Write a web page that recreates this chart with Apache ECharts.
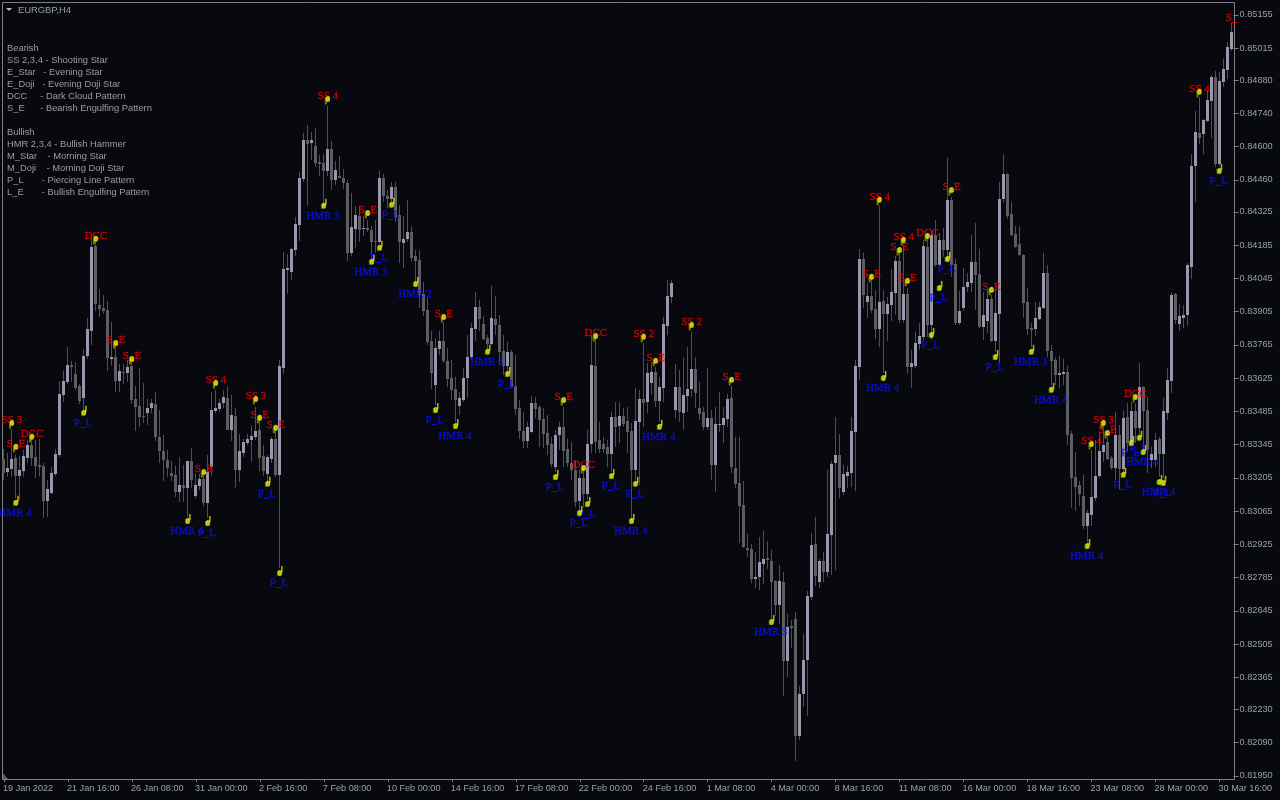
<!DOCTYPE html>
<html><head><meta charset="utf-8">
<style>html,body{margin:0;padding:0;background:#08090e}#c{width:1280px;height:800px}</style>
<script src="https://cdn.jsdelivr.net/npm/echarts@6/dist/echarts.min.js"></script>
</head><body><div id="c"></div>
<script>
// OHLC in points (1 point = 0.00001 EURGBP), H4 bars from 19 Jan 2022
const opens=[83285,83231,83243,83289,83214,83235,83289,83344,83293,83260,83256,83108,83142,83222,83302,83554,83609,83681,83643,83592,83542,83719,83824,84182,83933,83921,83912,83706,83714,83613,83651,83647,83677,83537,83508,83466,83478,83499,83516,83378,83319,83281,83226,83218,83146,83175,83163,83277,83129,83171,83201,83100,83251,83487,83495,83520,83542,83407,83466,83239,83310,83352,83365,83378,83407,83298,83222,83285,83369,83218,83668,84081,84072,84165,84271,84464,84628,84616,84603,84536,84532,84498,84590,84460,84477,84468,84447,84153,84254,84308,84254,84258,84249,84203,84199,84468,84393,84380,84431,84313,84195,84212,84241,84140,84123,83980,83912,83782,83597,83748,83782,83698,83626,83580,83508,83533,83626,83714,83832,83925,83853,83794,83769,83874,83849,83740,83677,83735,83592,83499,83403,83361,83399,83520,83504,83453,83395,83348,83251,83386,83420,83327,83268,83239,83108,83205,83137,83348,83677,83365,83348,83336,83306,83462,83424,83466,83445,83403,83239,83441,83537,83525,83605,83651,83529,83584,83845,83967,83491,83588,83478,83550,83580,83664,83499,83483,83420,83457,83260,83428,83428,83453,83542,83247,83184,83091,82910,82906,82779,82788,82843,82868,82855,82771,82670,82766,82434,82582,82611,82119,82295,82438,82704,82927,82766,82855,82809,82965,83268,83302,83146,83214,83226,83399,83672,84127,83946,83971,83917,83832,83950,83896,83933,83984,84119,83870,83980,83672,83677,83769,83799,84178,83849,84228,84102,84207,84165,84376,84106,83858,83921,84009,84026,84115,84064,83841,83866,83959,83782,83896,84380,84485,84317,84233,84190,84144,83946,83836,83832,83874,83921,84068,83740,83702,83639,83643,83651,83390,83209,83175,83129,83003,83049,83121,83214,83315,83357,83289,83247,83386,83243,83462,83361,83487,83415,83588,83491,83281,83281,83369,83306,83478,83613,83980,83853,83879,83891,84094,84519,84658,84654,84708,84793,84893,84527,84873,84923,85012];
const highs=[83327,83310,83411,83302,83298,83323,83365,83373,83365,83369,83268,83196,83251,83327,83613,83656,83756,83698,83693,83600,83748,83878,84216,84207,84001,83976,83950,83862,83773,83685,83685,83702,83693,83592,83668,83605,83537,83537,83567,83491,83386,83323,83277,83256,83293,83260,83277,83331,83222,83222,83218,83302,83567,83576,83537,83576,83592,83555,83499,83390,83369,83390,83424,83504,83470,83344,83302,83378,83407,83702,84157,84148,84174,84304,84494,84658,84691,84662,84679,84565,84569,84772,84624,84540,84561,84506,84460,84405,84351,84351,84308,84291,84266,84291,84498,84485,84418,84451,84451,84355,84308,84376,84266,84165,84165,84030,83963,83824,83794,83824,83862,83752,83702,83630,83567,83668,83807,83857,83988,83955,83887,83807,84014,83971,83891,83807,83778,83744,83723,83533,83483,83441,83550,83546,83512,83499,83470,83378,83407,83441,83504,83369,83357,83281,83239,83247,83407,83807,83798,83441,83378,83365,83483,83525,83525,83499,83504,83436,83584,83576,83773,83689,83693,83672,83630,83883,84039,84039,83685,83660,83710,83756,83820,83714,83609,83504,83668,83491,83504,83567,83504,83559,83592,83378,83378,83192,82969,82927,82893,82956,82982,82940,82902,82775,82838,82809,82632,82607,82640,82329,82548,82729,82973,83041,82864,82893,83239,83277,83462,83390,83260,83256,83462,83702,84169,84153,84026,84052,83997,84351,83997,83967,84085,84140,84153,84186,84005,83744,83820,83857,84207,84237,84249,84291,84237,84258,84553,84388,84127,83993,84089,84068,84228,84279,84170,83988,83997,83976,83997,84451,84569,84489,84367,84266,84266,84148,84005,83857,83946,83946,84153,84102,83765,83714,83719,83706,83677,83403,83314,83192,83218,83070,83323,83365,83399,83428,83378,83298,83483,83428,83491,83520,83525,83520,83689,83592,83546,83336,83394,83378,83542,83668,83984,83984,83938,83933,84110,84569,84751,84809,84717,84839,84902,84919,84915,84970,85041,85121];
const lows=[83196,83210,83210,83120,83112,83210,83268,83256,83205,83210,83037,83041,83137,83214,83293,83525,83600,83609,83576,83516,83491,83706,83765,83908,83883,83896,83656,83677,83567,83567,83600,83609,83516,83403,83420,83436,83428,83478,83361,83268,83192,83210,83192,83125,83104,83104,83041,83163,83120,83154,83087,83037,83214,83478,83483,83499,83407,83361,83163,83188,83293,83344,83272,83365,83235,83214,83184,83268,83210,82826,83643,83980,84039,84140,84203,84451,84351,84544,84515,84477,84351,84477,84418,84439,84468,84422,84119,84140,84174,84199,84224,84241,84123,84153,84191,84367,84342,84367,84283,84110,84089,84199,84115,84026,83921,83887,83765,83580,83512,83723,83689,83588,83533,83441,83470,83525,83542,83702,83782,83824,83786,83744,83765,83807,83681,83639,83639,83584,83470,83369,83331,83331,83395,83457,83336,83331,83302,83251,83230,83323,83251,83251,83196,83083,83057,83083,83112,83310,83310,83310,83310,83251,83230,83336,83352,83420,83310,83028,83196,83175,83420,83478,83554,83504,83441,83525,83807,83942,83457,83441,83407,83483,83546,83499,83449,83407,83407,83196,83146,83399,83352,83420,83226,83163,82931,82910,82872,82762,82741,82733,82758,82822,82607,82624,82590,82287,82367,82489,82013,82102,82241,82203,82691,82750,82741,82766,82788,82796,82817,83120,83133,83163,83167,83150,83618,83921,83879,83900,83790,83756,83647,83782,83866,83891,83858,83858,83643,83584,83668,83744,83786,83799,83786,84094,84094,84136,84123,84052,83849,83849,83908,83988,83988,83912,83836,83786,83816,83777,83736,83689,84363,84296,84224,84174,84140,83879,83807,83756,83803,83870,83917,83714,83596,83596,83584,83596,83344,83079,83066,83087,82990,82935,83003,83108,83205,83272,83281,83239,83196,83154,83230,83315,83352,83352,83378,83323,83226,83247,83251,83210,83205,83449,83563,83853,83824,83836,83845,84043,84367,84612,84569,84704,84637,84515,84519,84852,84885,85003];
const closes=[83226,83247,83285,83214,83239,83298,83344,83289,83256,83251,83108,83158,83226,83306,83558,83613,83681,83672,83584,83529,83719,83832,84178,83938,83917,83908,83710,83714,83613,83656,83647,83672,83533,83504,83462,83462,83499,83520,83378,83319,83281,83247,83214,83146,83175,83163,83277,83196,83175,83201,83100,83230,83491,83499,83520,83546,83407,83470,83239,83319,83357,83369,83382,83403,83289,83235,83293,83369,83218,83677,84085,84089,84169,84275,84468,84628,84611,84628,84532,84527,84498,84590,84460,84502,84468,84447,84153,84262,84313,84249,84258,84249,84199,84199,84468,84393,84380,84431,84300,84199,84212,84241,84132,84119,83976,83908,83778,83647,83752,83782,83698,83622,83576,83533,83542,83626,83714,83836,83925,83874,83790,83769,83878,83849,83735,83677,83735,83588,83495,83403,83361,83420,83520,83495,83449,83390,83344,83264,83386,83420,83319,83268,83239,83104,83205,83137,83348,83681,83357,83327,83327,83306,83462,83420,83466,83432,83399,83239,83445,83537,83520,83647,83651,83529,83588,83853,83971,84026,83588,83483,83554,83580,83664,83563,83474,83420,83457,83260,83432,83432,83457,83537,83251,83180,83087,82914,82902,82779,82788,82851,82864,82860,82766,82670,82771,82434,82578,82573,82119,82295,82438,82708,82923,82792,82855,82809,82969,83264,83302,83163,83222,83230,83403,83677,84127,83976,83971,83912,83832,83946,83896,83938,83988,84119,83870,83980,83672,83689,83773,83803,84182,83849,84228,84102,84207,84165,84376,84102,83858,83908,84009,84030,84115,84060,83841,83891,83959,83782,83900,84380,84485,84308,84228,84178,84144,83942,83832,83828,83879,83925,84068,83740,83698,83639,83647,83651,83386,83205,83167,83137,83003,83057,83125,83214,83319,83344,83285,83247,83386,83243,83457,83352,83487,83415,83588,83487,83323,83306,83365,83306,83487,83618,83976,83870,83887,83891,84102,84519,84662,84637,84713,84797,84893,84527,84877,84927,85020,85083];

const xTickLabels=["19 Jan 2022","21 Jan 16:00","26 Jan 08:00","31 Jan 00:00","2 Feb 16:00","7 Feb 08:00","10 Feb 00:00","14 Feb 16:00","17 Feb 08:00","22 Feb 00:00","24 Feb 16:00","1 Mar 08:00","4 Mar 00:00","8 Mar 16:00","11 Mar 08:00","16 Mar 00:00","18 Mar 16:00","23 Mar 08:00","28 Mar 00:00","30 Mar 16:00"];
const barsPerXLabel=16;
const yTickLabels=[0.85155,0.85015,0.84880,0.84740,0.84600,0.84460,0.84325,0.84185,0.84045,0.83905,0.83765,0.83625,0.83485,0.83345,0.83205,0.83065,0.82925,0.82785,0.82645,0.82505,0.82365,0.82230,0.82090,0.81950];

const bearBars=[2,7,3,23,28,32,53,63,64,68,50,81,91,110,140,145,148,160,163,172,182,219,225,224,217,226,231,237,247,272,275,276,283,299];
const bearPrices=[83436,83378,83336,84212,83773,83706,83605,83537,83458,83416,83230,84801,84321,83883,83533,83247,83803,83799,83698,83849,83618,84376,84207,84165,84052,84035,84224,84418,83997,83348,83436,83394,83546,84831];
const bearTexts=["SS 3","DCC","S_E","DCC","S_E","S_E","SS 4","SS 3","S_E","S_E","S_E","SS 4","S_E","S_E","S_E","DCC","DCC","SS 2","S_E","SS 2","S_E","SS 4","SS 4","S_E","S_E","S_E","DCC","S_E","S_E","SS 4","SS 3","S_E","DCC","SS 4"];
const cutOffBar=307, cutOffPrice=85130, cutOffText="S_";

const bullBars=[20,3,46,51,66,69,80,94,92,97,103,108,113,121,126,138,144,146,152,158,157,164,192,220,232,234,236,248,257,262,271,280,284,282,285,289,290,304];
const bullPrices=[83479,83100,83024,83015,83180,82805,84351,84174,84115,84355,84022,83491,83424,83736,83643,83209,83057,83095,83213,83180,83024,83420,82598,83626,83807,84005,84127,83714,83736,83576,82918,83218,83374,83352,83314,83188,83184,84498];
const bullTexts=["P_L","HMR 4","HMR 4","P_L","P_L","P_L","HMR 3","P_L","HMR 3","P_L","HMR 2","P_L","HMR 4","HMR 4","P_L","P_L","P_L","P_L","P_L","P_L","HMR 4","HMR 4","HMR 3","HMR 4","P_L","P_L","P_L","P_L","HMR 3","HMR 4","HMR 4","P_L","P_L","P_L","HMR 4","HMR 4","P_L","P_L"];

const noteLines=[["Bearish",48],["SS 2,3,4 - Shooting Star",60],["E_Star   - Evening Star",72],["E_Doji   - Evening Doji Star",84],["DCC     - Dark Cloud Pattern",96],["S_E      - Bearish Engulfing Pattern",108],["Bullish",132],["HMR 2,3,4 - Bullish Hammer",144],["M_Star    - Morning Star",156],["M_Doji    - Morning Doji Star",168],["P_L       - Piercing Line Pattern",180],["L_E       - Bullish Engulfing Pattern",192]];
const symbolTitle="EURGBP,H4";

const P=v=>v/100000;
const cats=opens.map((_,i)=>i);
const UI='"Liberation Sans",Arial,sans-serif';
const SERIF='"Liberation Serif","Times New Roman",serif';
const BULL='#9898aa',BEAR='#5e5e62',WICK='#505054',FRAME='#7e7f86',TXT='#98a0aa';
const wickData=cats.map(i=>[P(opens[i]),P(closes[i]),P(lows[i]),P(highs[i])]);
const bodyData=cats.map(i=>[i,P(opens[i]),P(closes[i])]);
const bear=bearBars.map((b,i)=>[b,P(bearPrices[i]),bearTexts[i]]);
const bull=bullBars.map((b,i)=>[b,P(bullPrices[i]),bullTexts[i]]);
const marks=bear.concat(bull);
const markLayer=(name,data,opt)=>Object.assign({name,type:'scatter',data,silent:true,animation:false,xAxisIndex:0,yAxisIndex:0},opt);
const txtLayer=(name,data,color,offset)=>markLayer(name,data,{z:5,symbol:'circle',symbolSize:1,itemStyle:{color:'rgba(0,0,0,0)'},
  label:{show:true,position:'inside',offset,color,fontFamily:SERIF,fontSize:11,textBorderColor:color,textBorderWidth:0.3,formatter:p=>p.data[2]}});
function renderBody(params,api){
  const a=api.coord([api.value(0),api.value(1)]), b=api.coord([api.value(0),api.value(2)]);
  const x=Math.round(a[0]-1.5), y0=Math.round(Math.min(a[1],b[1])), y1=Math.round(Math.max(a[1],b[1]));
  return {type:'rect',shape:{x,y:y0,width:3,height:Math.max(y1-y0,1)},
    style:{fill:api.value(2)>api.value(1)?BULL:BEAR}};
}

const chart=echarts.init(document.getElementById('c'),null,{renderer:'canvas'});
chart.setOption({
  animation:false,
  backgroundColor:'#08090e',
  grid:{left:1.5,top:3,width:1232,height:776,show:false},
  xAxis:{type:'category',data:cats,boundaryGap:true,
    axisLine:{show:false},
    axisTick:{show:true,alignWithLabel:true,interval:barsPerXLabel-1,length:3,lineStyle:{color:FRAME}},
    axisLabel:{show:true,interval:barsPerXLabel-1,align:'left',margin:5,color:TXT,fontFamily:UI,fontSize:9.1,
      padding:[0,0,0,-1],formatter:(v,idx)=>xTickLabels[idx/barsPerXLabel]||''},
    splitLine:{show:false}},
  yAxis:{type:'value',position:'right',min:0.81937,max:0.85205,scale:true,
    axisLine:{show:false},
    axisTick:{show:true,length:5,lineStyle:{color:FRAME},customValues:yTickLabels},
    axisLabel:{show:true,margin:6,color:TXT,fontFamily:UI,fontSize:9.2,padding:[2,0,0,0],customValues:yTickLabels,formatter:v=>v.toFixed(5)},
    splitLine:{show:false}},
  series:[
    {name:'EURGBP',type:'candlestick',data:wickData,barWidth:1,z:2,
      itemStyle:{color:WICK,color0:WICK,borderColor:WICK,borderColor0:WICK,borderWidth:1}},
    {name:'EURGBP bodies',type:'custom',data:bodyData,renderItem:renderBody,encode:{x:0,y:[1,2]},z:3,silent:true},
    txtLayer('Bearish labels',bear.concat([[cutOffBar,P(cutOffPrice),cutOffText]]),'#f00000',[0,-3]),
    txtLayer('Bullish labels',bull,'#0c0cff',[-1,10]),
    markLayer('Bearish tails',bear,{z:6,symbol:'rect',symbolSize:[2,5],symbolOffset:[-2,3],itemStyle:{color:'#c08400'}}),
    markLayer('Bullish tails',bull,{z:6,symbol:'rect',symbolSize:[1.5,6],symbolOffset:[2,-4],itemStyle:{color:'#ffd400'}}),
    markLayer('Mark edges',marks,{z:7,symbol:'rect',symbolSize:[2,5],symbolOffset:[-2,0.5],itemStyle:{color:'#2f9a10'}}),
    markLayer('Mark centres',marks,{z:8,symbol:'circle',symbolSize:[4.5,6],itemStyle:{color:'#f2f210'}})
  ],
  graphic:[
    {type:'rect',silent:true,shape:{x:2.5,y:2.5,width:1232,height:777},style:{fill:'none',stroke:FRAME,lineWidth:1},z:1},
    {type:'polygon',silent:true,shape:{points:[[6,8],[12,8],[9,11]]},style:{fill:'#b8bcc2'},z:10},
    {type:'polygon',silent:true,shape:{points:[[3,773],[3,779],[8,779]]},style:{fill:'#5c5d63'},z:10},
    {type:'text',silent:true,x:18,y:10,style:{text:symbolTitle,fill:TXT,font:'9.4px '+UI,textVerticalAlign:'middle'},z:10}
  ].concat(noteLines.map(l=>({type:'text',silent:true,x:7,y:l[1],z:10,style:{text:l[0],fill:'#9a9da3',font:'9.35px '+UI,textVerticalAlign:'middle'}})))
});
</script></body></html>
